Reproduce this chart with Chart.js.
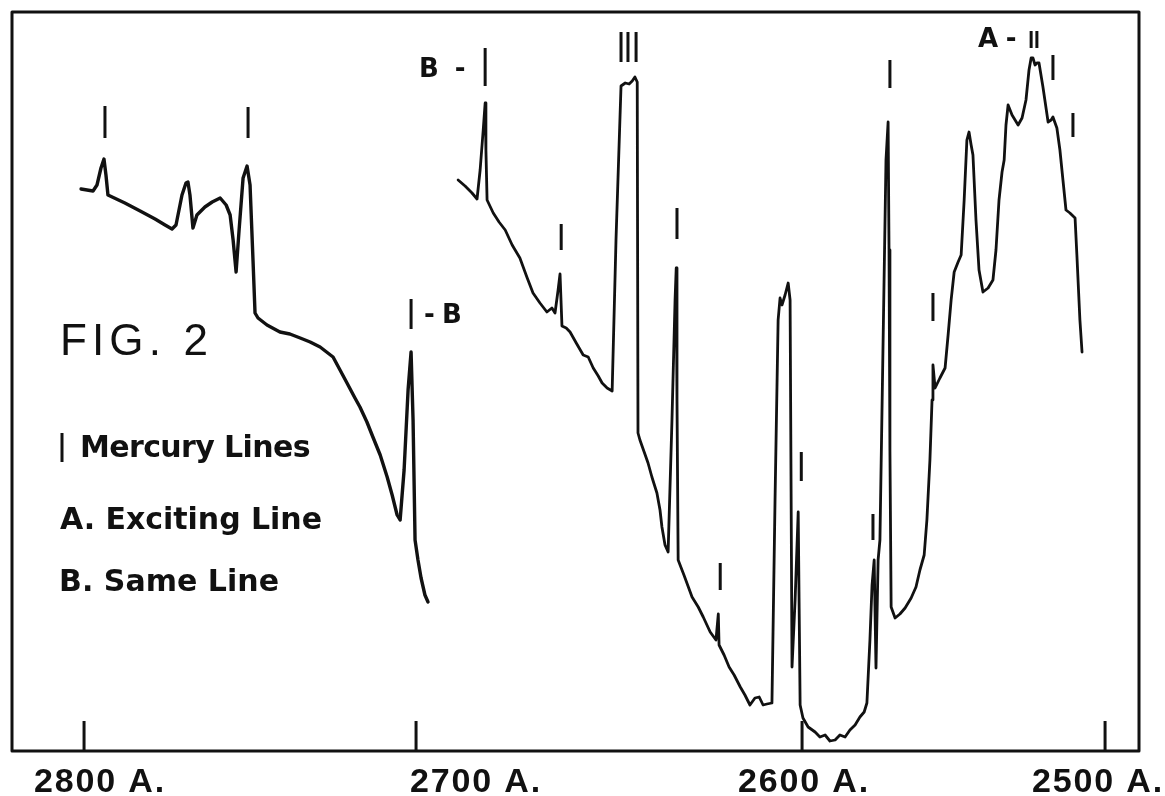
<!DOCTYPE html>
<html>
<head>
<meta charset="utf-8">
<script src="https://cdn.jsdelivr.net/npm/chart.js@4.4.0/dist/chart.umd.min.js"></script>
<style>
  html, body { margin: 0; padding: 0; background: #ffffff; }
  canvas { display: block; }
</style>
</head>
<body>
<canvas id="chart" width="1165" height="796"></canvas>
<script>
// ---------------- DATA ----------------
// Plate calibration: wavelength (Å) vs. position along the plate (arbitrary mm)
const calWavelength = [2800, 2700, 2600, 2500];
const calPlate      = [7.2, 40.4, 79.0, 109.3];

const tickWavelength = [2800, 2700, 2600, 2500];
const tickLabels     = ['2800 A.', '2700 A.', '2600 A.', '2500 A.'];

// Left trace (long-wavelength part)
const leftTraceWavelength = [
  2800.9, 2797.3, 2796.1, 2794.9, 2794.0, 2793.4, 2792.8, 2787.7, 2783.1, 2778.6,
  2775.6, 2773.5, 2772.3, 2770.5, 2769.3, 2768.7, 2768.1, 2767.2, 2766.0, 2763.6,
  2761.4, 2759.0, 2757.2, 2756.0, 2755.1, 2754.2, 2753.3, 2752.1, 2750.9, 2750.0,
  2749.1, 2748.5, 2747.6, 2744.9, 2741.0, 2738.0, 2734.9, 2731.9, 2728.9, 2725.0,
  2722.9, 2720.8, 2718.4, 2716.9, 2714.8, 2713.0, 2710.8, 2708.7, 2707.2, 2705.7,
  2704.8, 2703.6, 2702.4, 2701.5, 2700.9, 2700.3, 2699.5, 2698.7, 2697.7, 2696.9
];
const leftTraceDeflection = [
  56.2, 56.0, 56.6, 58.3, 59.2, 57.6, 55.6, 54.8, 54.0, 53.2,
  52.6, 52.2, 52.6, 55.6, 56.8, 56.9, 55.6, 52.3, 53.6, 54.4,
  54.9, 55.3, 54.6, 53.6, 51.1, 47.9, 52.1, 57.3, 58.5, 56.6,
  49.0, 43.8, 43.3, 42.6, 41.9, 41.7, 41.3, 40.9, 40.4, 39.4,
  38.1, 36.8, 35.3, 34.4, 32.9, 31.4, 29.6, 27.4, 25.6, 23.6,
  23.1, 28.1, 36.1, 39.9, 33.1, 21.1, 19.1, 17.3, 15.6, 14.9
];

// Right trace (short-wavelength part)
const rightTraceWavelength = [
  2689.1, 2687.3, 2685.5, 2684.2, 2683.4, 2682.6, 2682.1, 2681.9, 2681.6, 2680.0,
  2678.5, 2676.9, 2675.1, 2673.1, 2671.2, 2669.7, 2667.9, 2666.1, 2664.8, 2664.0,
  2663.2, 2662.7, 2662.2, 2661.1, 2660.1, 2658.5, 2656.7, 2655.4, 2654.1, 2652.8,
  2651.8, 2650.5, 2649.2, 2648.2, 2646.9, 2645.8, 2644.8, 2644.0, 2643.3, 2642.7,
  2642.5, 2642.0, 2640.9, 2639.9, 2638.9, 2637.6, 2636.8, 2636.3, 2635.5, 2634.7,
  2633.7, 2632.9, 2632.6, 2632.4, 2632.1, 2630.6, 2628.5, 2626.9, 2625.6, 2623.8,
  2622.3, 2621.7, 2621.5, 2620.2, 2618.9, 2617.6, 2616.0, 2614.8, 2613.5, 2612.2,
  2611.1, 2610.1, 2609.1, 2607.8, 2607.0, 2606.2, 2605.7, 2605.2, 2604.4, 2603.6,
  2603.1, 2602.6, 2601.8, 2601.0, 2600.5, 2599.7, 2598.0, 2595.7, 2594.1, 2592.4,
  2590.8, 2589.1, 2587.5, 2585.8, 2584.2, 2582.5, 2580.9, 2579.5, 2578.6, 2577.6,
  2576.9, 2576.2, 2575.6, 2574.9, 2574.3, 2573.3, 2572.3, 2571.6, 2571.3, 2571.0,
  2570.6, 2569.3, 2567.7, 2566.0, 2564.0, 2562.4, 2561.1, 2559.7, 2558.8, 2557.8,
  2557.1, 2556.8, 2556.1, 2554.5, 2552.8, 2551.8, 2550.8, 2549.8, 2548.5, 2547.5,
  2546.5, 2545.6, 2544.9, 2544.2, 2543.6, 2542.6, 2541.6, 2540.3, 2538.6, 2537.0,
  2536.0, 2535.0, 2534.0, 2533.3, 2532.7, 2532.0, 2530.7, 2528.7, 2527.4, 2526.1,
  2525.1, 2524.4, 2523.8, 2523.1, 2522.5, 2521.8, 2520.5, 2518.8, 2517.8, 2517.2,
  2515.9, 2514.9, 2513.9, 2512.9, 2511.6, 2509.9, 2509.3, 2508.3, 2507.6
];
const rightTraceDeflection = [
  57.1, 56.5, 55.8, 55.2, 58.1, 62.1, 64.8, 60.1, 55.1, 53.8,
  52.9, 52.1, 50.6, 49.3, 47.3, 45.8, 44.8, 43.9, 44.3, 43.8,
  46.1, 47.7, 42.5, 42.3, 41.9, 40.8, 39.6, 39.4, 38.3, 37.5,
  36.8, 36.3, 36.0, 51.1, 66.5, 66.8, 66.7, 67.0, 67.4, 66.9,
  31.8, 31.1, 29.9, 28.8, 27.4, 25.8, 24.1, 22.4, 20.6, 19.9,
  33.1, 45.1, 48.3, 35.1, 19.1, 17.6, 15.4, 14.4, 13.4, 11.9,
  11.1, 13.7, 10.6, 9.6, 8.4, 7.6, 6.4, 5.6, 4.6, 5.3,
  5.4, 4.6, 4.7, 4.8, 25.1, 43.1, 45.3, 44.6, 45.6, 46.8,
  45.1, 8.4, 15.1, 23.9, 4.6, 3.3, 2.4, 1.9, 1.4, 1.6,
  1.0, 1.1, 1.6, 1.4, 2.1, 2.6, 3.4, 3.9, 4.8, 11.1,
  16.6, 19.1, 8.3, 19.1, 21.1, 40.1, 59.1, 62.9, 50.1, 30.1,
  14.4, 13.3, 13.7, 14.3, 15.3, 16.4, 18.1, 19.6, 23.1, 29.1,
  35.1, 38.6, 36.3, 37.3, 38.3, 41.6, 45.1, 47.9, 48.9, 49.6,
  55.1, 61.1, 61.9, 60.6, 59.6, 53.1, 48.1, 45.9, 46.3, 47.1,
  50.1, 55.1, 57.9, 59.1, 62.6, 64.6, 63.6, 62.6, 63.3, 65.1,
  68.1, 69.3, 69.3, 68.6, 68.8, 68.8, 66.4, 62.9, 63.1, 63.4,
  62.3, 60.1, 57.1, 54.1, 53.8, 53.3, 49.6, 43.1, 39.9
];

// Mercury line markers (short vertical bars)
const mercuryWavelength = [2793.7, 2750.6, 2701.5, 2682.1, 2662.4, 2646.9, 2645.1, 2643.0, 2632.4,
                           2621.2, 2600.2, 2576.6, 2571.0, 2556.8, 2524.4, 2522.5, 2517.2, 2510.6];
const mercuryTop    = [64.5, 64.4, 45.2, 70.3, 52.7, 71.9, 71.9, 71.9, 54.3,
                       18.8, 29.9, 23.7, 69.1, 45.8, 72.0, 72.0, 69.6, 63.8];
const mercuryBottom = [61.3, 61.3, 42.2, 66.5, 50.1, 68.9, 68.9, 68.9, 51.2,
                       16.1, 27.0, 21.1, 66.3, 43.0, 70.3, 70.3, 67.1, 61.4];

const figTitle     = 'FIG. 2';
const legendTexts  = ['Mercury Lines', 'A. Exciting Line', 'B. Same Line'];
const markerNotes  = ['B -', '-B', 'A -'];

// ---------------- STYLE ----------------
const INK = '#111111';
const X_MIN = 2488.8, X_MAX = 2821.7;
const Y_MIN = 0, Y_MAX = 73.9;
const TICK_LEN = 30;
const TICK_LABEL_OFFSET = [-50, -6, -64, -73];
const TICK_LABEL_BASELINE = 792;
const TICK_FONT = 'bold 34px "Liberation Sans"';

// ---------------- PLATE SCALE ----------------
function plateOf(w) {
  const n = calWavelength.length;
  let i = 0;
  while (i < n - 2 && w < calWavelength[i + 1]) i++;
  const w0 = calWavelength[i], w1 = calWavelength[i + 1];
  const p0 = calPlate[i], p1 = calPlate[i + 1];
  return p0 + (w - w0) * (p1 - p0) / (w1 - w0);
}
function wavelengthOf(p) {
  const n = calPlate.length;
  let i = 0;
  while (i < n - 2 && p > calPlate[i + 1]) i++;
  const w0 = calWavelength[i], w1 = calWavelength[i + 1];
  const p0 = calPlate[i], p1 = calPlate[i + 1];
  return w0 + (p - p0) * (w1 - w0) / (p1 - p0);
}
class PlateScale extends Chart.LinearScale {
  getPixelForValue(value) {
    if (value === null || value === undefined || isNaN(value)) return NaN;
    const a = plateOf(this.max), b = plateOf(this.min);
    return this.left + (plateOf(value) - a) / (b - a) * this.width;
  }
  getValueForPixel(pixel) {
    const a = plateOf(this.max), b = plateOf(this.min);
    return wavelengthOf(a + (pixel - this.left) / this.width * (b - a));
  }
}
PlateScale.id = 'plate';
PlateScale.defaults = Chart.LinearScale.defaults;
Chart.register(PlateScale);

// ---------------- BUILD DATASETS ----------------
function pairs(xs, ys) {
  const out = [];
  for (let i = 0; i < Math.min(xs.length, ys.length); i++) out.push({ x: xs[i], y: ys[i] });
  return out;
}
const markerPoints = [];
mercuryWavelength.forEach((w, i) => {
  markerPoints.push({ x: w, y: mercuryTop[i] });
  markerPoints.push({ x: w, y: mercuryBottom[i] });
  markerPoints.push({ x: w, y: null });
});

// ---------------- DECORATION PLUGIN ----------------
function fitText(ctx, text, x, baseline, font, width) {
  ctx.font = font;
  ctx.letterSpacing = '0px';
  const natural = ctx.measureText(text).width;
  const sp = width ? (width - natural) / Math.max(1, text.length) : 0;
  ctx.letterSpacing = sp + 'px';
  ctx.fillText(text, x, baseline);
  ctx.letterSpacing = '0px';
}

const decorations = {
  id: 'decorations',
  afterDraw(chart) {
    const ctx = chart.ctx;
    const a = chart.chartArea;
    const xs = chart.scales.x;
    ctx.save();
    ctx.strokeStyle = INK;
    ctx.fillStyle = INK;
    // frame
    ctx.lineWidth = 3;
    ctx.lineJoin = 'round';
    ctx.strokeRect(a.left, a.top, a.right - a.left, a.bottom - a.top);
    // inward ticks + labels
    ctx.lineWidth = 3;
    ctx.textBaseline = 'alphabetic';
    ctx.textAlign = 'left';
    tickWavelength.forEach((w, i) => {
      const px = xs.getPixelForValue(w);
      ctx.beginPath();
      ctx.moveTo(px, a.bottom);
      ctx.lineTo(px, a.bottom - TICK_LEN);
      ctx.stroke();
      fitText(ctx, tickLabels[i], px + TICK_LABEL_OFFSET[i], TICK_LABEL_BASELINE, TICK_FONT, 132);
    });
    // figure title
    fitText(ctx, figTitle, 60, 355, '44px "Liberation Sans"', 153);
    // legend swatch
    ctx.lineWidth = 3;
    ctx.beginPath();
    ctx.moveTo(62, 433);
    ctx.lineTo(62, 462);
    ctx.stroke();
    fitText(ctx, legendTexts[0], 80, 457, 'bold 30px "DejaVu Sans"', 230);
    fitText(ctx, legendTexts[1], 60, 529, 'bold 30px "DejaVu Sans"', 262);
    fitText(ctx, legendTexts[2], 59, 591, 'bold 30px "DejaVu Sans"', 220);
    // marker notes
    fitText(ctx, markerNotes[0], 419, 77, 'bold 26px "DejaVu Sans"', 50);
    fitText(ctx, markerNotes[1], 424, 323, 'bold 26px "DejaVu Sans"', 45);
    fitText(ctx, markerNotes[2], 978, 47, 'bold 26px "DejaVu Sans"', 38);
    ctx.restore();
  }
};

// ---------------- CHART ----------------
new Chart(document.getElementById('chart'), {
  type: 'line',
  data: {
    datasets: [
      { label: 'left trace', data: pairs(leftTraceWavelength, leftTraceDeflection),
        borderColor: INK, borderWidth: 3.4, pointRadius: 0, tension: 0,
        borderJoinStyle: 'round', borderCapStyle: 'round' },
      { label: 'right trace', data: pairs(rightTraceWavelength, rightTraceDeflection),
        borderColor: INK, borderWidth: 2.8, pointRadius: 0, tension: 0,
        borderJoinStyle: 'round', borderCapStyle: 'round' },
      { label: 'mercury lines', data: markerPoints,
        borderColor: INK, borderWidth: 3, pointRadius: 0, tension: 0, spanGaps: false,
        borderCapStyle: 'butt' }
    ]
  },
  options: {
    responsive: false,
    animation: false,
    devicePixelRatio: 1,
    parsing: true,
    layout: { padding: { left: 12, top: 12, right: 26, bottom: 45 } },
    plugins: { legend: { display: false }, title: { display: false }, tooltip: { enabled: false } },
    scales: {
      x: { type: 'plate', min: X_MIN, max: X_MAX, display: false },
      y: { type: 'linear', min: Y_MIN, max: Y_MAX, display: false }
    },
    elements: { line: { fill: false } }
  },
  plugins: [decorations]
});
</script>
</body>
</html>
